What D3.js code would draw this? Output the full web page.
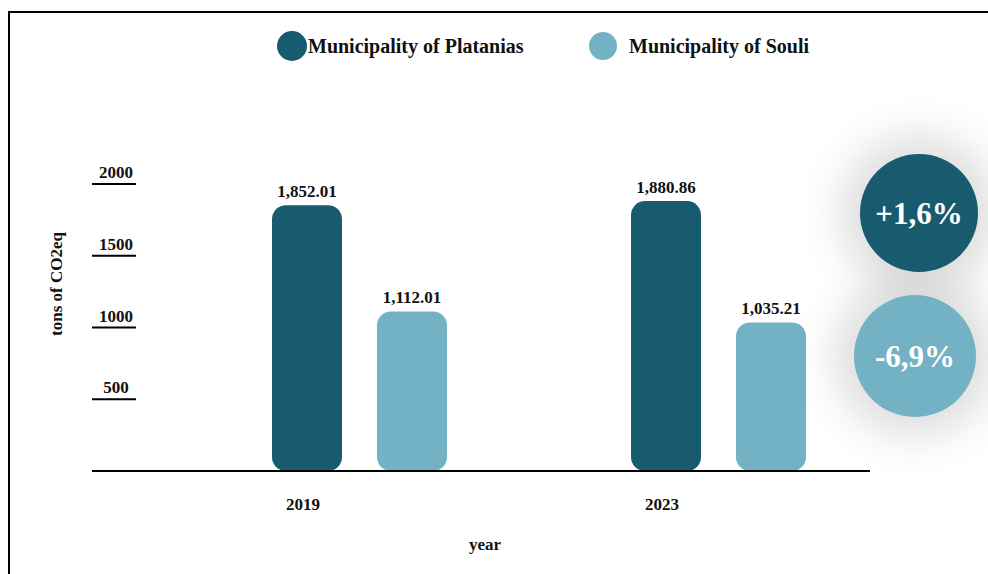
<!DOCTYPE html>
<html>
<head>
<meta charset="utf-8">
<script src="https://cdn.jsdelivr.net/npm/d3@7"></script>
<style>
  html, body { margin: 0; padding: 0; background: #fff; }
  svg { display: block; font-family: "Liberation Serif", "Times New Roman", serif; }
</style>
</head>
<body>
<div id="chart"></div>
<script>
// ---------------------------------------------------------
// DATA
// ---------------------------------------------------------
const years = ["2019", "2023"];
const series = ["Municipality of Platanias", "Municipality of Souli"];
const platanias = [1852.01, 1880.86];
const souli = [1112.01, 1035.21];
const yTicks = [500, 1000, 1500, 2000];
const colors = ["#185a6e", "#73b1c4"];

// ---------------------------------------------------------
// SETUP
// ---------------------------------------------------------
const width = 988, height = 574;
const svg = d3.select("#chart").append("svg")
    .attr("width", width)
    .attr("height", height);

const defs = svg.append("defs");
defs.append("filter")
    .attr("id", "glow")
    .attr("x", "-100%").attr("y", "-100%")
    .attr("width", "300%").attr("height", "300%")
  .append("feGaussianBlur")
    .attr("stdDeviation", 20);

// frame
svg.append("rect")
    .attr("x", 9).attr("y", 12)
    .attr("width", 1200).attr("height", 800)
    .attr("fill", "none")
    .attr("stroke", "#000")
    .attr("stroke-width", 2);

// ---------------------------------------------------------
// SCALES
// ---------------------------------------------------------
const y = d3.scaleLinear().domain([0, 2000]).range([471, 184]);

const x0 = d3.scaleBand()
    .domain(years)
    .range([272, 806])
    .paddingInner(0.5125)
    .paddingOuter(0);

const x1 = d3.scaleBand()
    .domain(series)
    .range([0, x0.bandwidth()])
    .paddingInner(1 / 3)
    .paddingOuter(0);

const rows = years.map((yr, i) => ({
  year: yr,
  values: [
    { s: series[0], v: platanias[i], c: colors[0] },
    { s: series[1], v: souli[i], c: colors[1] }
  ]
}));

// ---------------------------------------------------------
// LEGEND
// ---------------------------------------------------------
const legend = svg.append("g");
const legendPos = [{ cx: 292, r: 15 }, { cx: 603, r: 14 }];
series.forEach((s, i) => {
  legend.append("circle")
      .attr("cx", legendPos[i].cx)
      .attr("cy", 46)
      .attr("r", legendPos[i].r)
      .attr("fill", colors[i]);
  legend.append("text")
      .attr("x", i === 0 ? 308 : 629)
      .attr("y", 53)
      .attr("font-size", 20)
      .attr("font-weight", "bold")
      .attr("fill", "#111")
      .text(s);
});

// ---------------------------------------------------------
// Y AXIS (short underlines with labels above)
// ---------------------------------------------------------
const gy = svg.append("g");
yTicks.forEach(t => {
  gy.append("line")
      .attr("x1", 92).attr("x2", 136)
      .attr("y1", y(t)).attr("y2", y(t))
      .attr("stroke", "#000")
      .attr("stroke-width", 2);
  gy.append("text")
      .attr("x", 116)
      .attr("y", y(t) - 6)
      .attr("text-anchor", "middle")
      .attr("font-size", 17)
      .attr("font-weight", "bold")
      .attr("fill", "#111")
      .text(t);
});

svg.append("text")
    .attr("transform", "translate(62,284) rotate(-90)")
    .attr("text-anchor", "middle")
    .attr("font-size", 17)
    .attr("font-weight", "bold")
    .attr("fill", "#111")
    .text("tons of CO2eq");

// ---------------------------------------------------------
// BARS
// ---------------------------------------------------------
const groups = svg.append("g").selectAll("g")
    .data(rows)
    .enter().append("g")
    .attr("transform", d => `translate(${x0(d.year)},0)`);

groups.selectAll("rect")
    .data(d => d.values)
    .enter().append("rect")
    .attr("x", d => x1(d.s))
    .attr("y", d => y(d.v))
    .attr("width", x1.bandwidth())
    .attr("height", d => y(0) - y(d.v))
    .attr("rx", 14)
    .attr("fill", d => d.c);

groups.selectAll("text.val")
    .data(d => d.values)
    .enter().append("text")
    .attr("class", "val")
    .attr("x", d => x1(d.s) + x1.bandwidth() / 2)
    .attr("y", d => y(d.v) - 8)
    .attr("text-anchor", "middle")
    .attr("font-size", 17)
    .attr("font-weight", "bold")
    .attr("fill", "#111")
    .text(d => d3.format(",.2f")(d.v));

// x axis line
svg.append("line")
    .attr("x1", 92).attr("x2", 870)
    .attr("y1", y(0)).attr("y2", y(0))
    .attr("stroke", "#000")
    .attr("stroke-width", 2);

// year labels (under first bar of each group)
svg.append("g").selectAll("text")
    .data(years)
    .enter().append("text")
    .attr("x", d => x0(d) + x1(series[0]) + x1.bandwidth() / 2 - 4)
    .attr("y", 510)
    .attr("text-anchor", "middle")
    .attr("font-size", 17)
    .attr("font-weight", "bold")
    .attr("fill", "#111")
    .text(d => d);

svg.append("text")
    .attr("x", 485)
    .attr("y", 550)
    .attr("text-anchor", "middle")
    .attr("font-size", 17)
    .attr("font-weight", "bold")
    .attr("fill", "#111")
    .text("year");

// ---------------------------------------------------------
// CHANGE BUBBLES
// ---------------------------------------------------------
const fmtPct = v => (v > 0 ? "+" : "-") + d3.format(".1f")(Math.abs(v)).replace(".", ",") + "%";
const changes = [
  { v: (platanias[1] - platanias[0]) / platanias[0] * 100, c: colors[0], cx: 919, cy: 213, r: 59 },
  { v: (souli[1] - souli[0]) / souli[0] * 100, c: colors[1], cx: 915, cy: 356, r: 61 }
];

const bubbles = svg.append("g");
bubbles.selectAll("circle.shadow")
    .data(changes)
    .enter().append("circle")
    .attr("class", "shadow")
    .attr("cx", d => d.cx)
    .attr("cy", d => d.cy)
    .attr("r", d => d.r + 20)
    .attr("fill", "#9a9a9a")
    .attr("opacity", 0.32)
    .attr("filter", "url(#glow)");

bubbles.selectAll("circle.dot")
    .data(changes)
    .enter().append("circle")
    .attr("class", "dot")
    .attr("cx", d => d.cx)
    .attr("cy", d => d.cy)
    .attr("r", d => d.r)
    .attr("fill", d => d.c);

bubbles.selectAll("text")
    .data(changes)
    .enter().append("text")
    .attr("x", d => d.cx)
    .attr("y", d => d.cy + 11)
    .attr("text-anchor", "middle")
    .attr("font-size", 31)
    .attr("font-weight", "bold")
    .attr("fill", "#fff")
    .text(d => fmtPct(d.v));
</script>
</body>
</html>
